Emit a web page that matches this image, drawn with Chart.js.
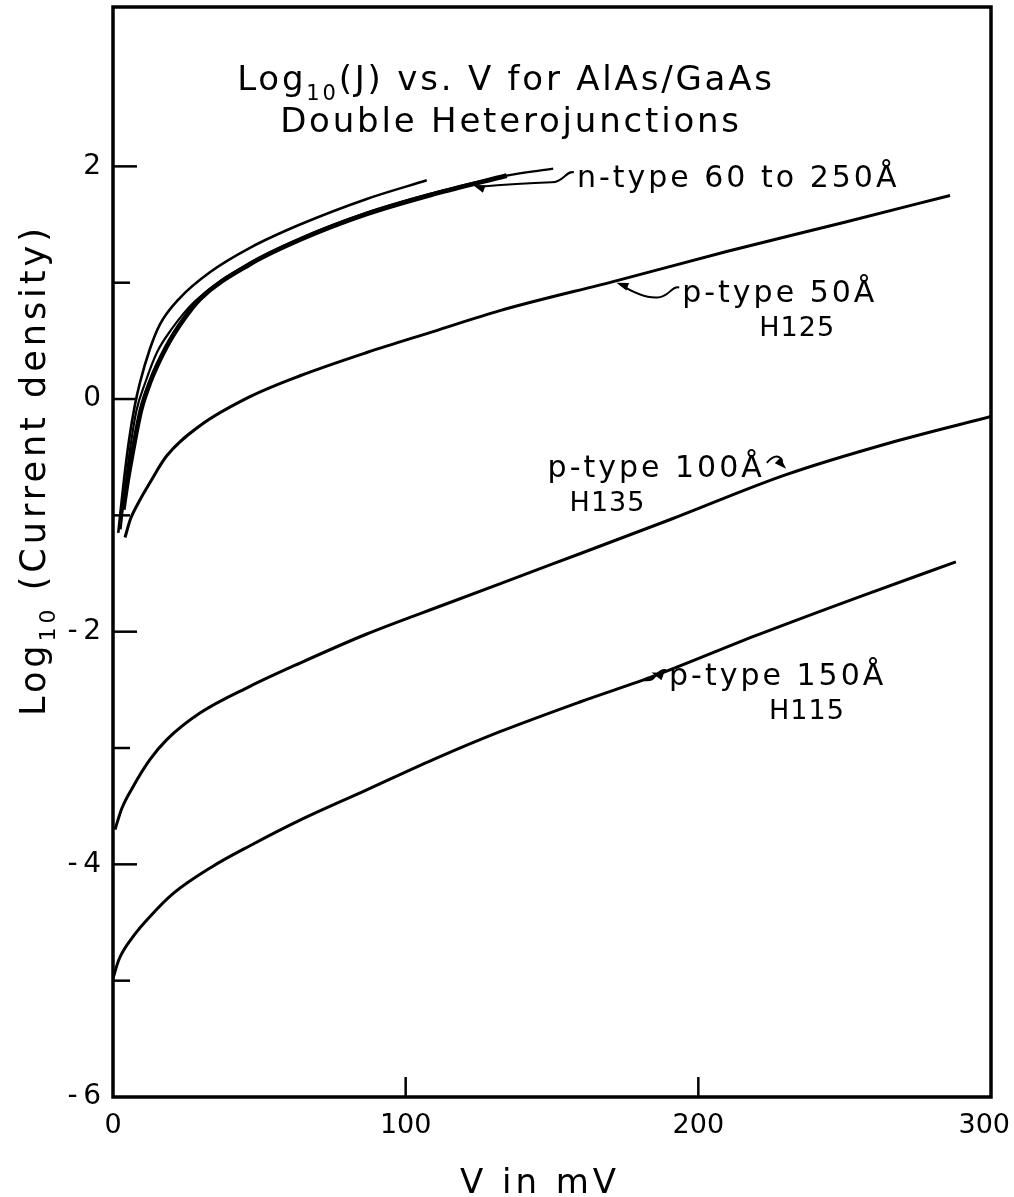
<!DOCTYPE html>
<html>
<head>
<meta charset="utf-8">
<script src="https://cdn.jsdelivr.net/npm/chart.js@4.4.0/dist/chart.umd.min.js"></script>
<style>
  html, body { margin: 0; padding: 0; background: #fff; }
  #wrap { width: 1014px; height: 1197px; }
</style>
</head>
<body>
<div id="wrap"><canvas id="chart" width="1014" height="1197"></canvas></div>
<script>
// log10(J) against bias V (mV)

// n-type 60 to 250 A wells (three traces)
const nUpperV = [1.8, 3.5, 5.5, 7.5, 9.2, 12.6, 16, 22.9, 33.1, 46.8, 63.9, 86.7, 107.2];
const nUpperJ = [-1.15, -0.75, -0.35, -0.05, 0.14, 0.43, 0.64, 0.87, 1.09, 1.30, 1.50, 1.72, 1.88];

const nThickV = [3.5, 5, 6.9, 9.5, 12.6, 18.3, 24, 29.7, 46.8, 63.9, 86.6, 109.4, 134.5];
const nThickJ = [-0.95, -0.70, -0.43, -0.10, 0.14, 0.45, 0.68, 0.86, 1.16, 1.37, 1.59, 1.76, 1.92];

const nThinV = [2.6, 4.2, 6, 8, 11, 15, 20, 28, 46.8, 63.9, 86.6, 109.4, 134.5, 150.4];
const nThinJ = [-1.12, -0.75, -0.40, -0.10, 0.14, 0.40, 0.60, 0.84, 1.17, 1.38, 1.60, 1.77, 1.92, 1.98];

// p-type 50 A (H125)
const p50V = [4.1, 6, 8.5, 12.6, 18.3, 29.7, 46.8, 63.9, 86.7, 109.4, 132.2, 172.5, 210, 250, 286];
const p50J = [-1.19, -1.03, -0.90, -0.72, -0.49, -0.23, 0.02, 0.20, 0.40, 0.58, 0.76, 1.02, 1.27, 1.52, 1.75];

// p-type 100 A (H135)
const p100V = [0.7, 3, 6.9, 12.6, 18.3, 29.7, 46.8, 63.9, 86.7, 114, 150, 190, 230, 265, 300];
const p100J = [-3.70, -3.52, -3.33, -3.10, -2.93, -2.70, -2.47, -2.27, -2.02, -1.76, -1.42, -1.04, -0.65, -0.38, -0.15];

// p-type 150 A (H115)
const p150V = [0, 2, 6.9, 12.6, 20.6, 33.9, 46.8, 63.9, 86.7, 109.4, 132.2, 160, 185, 220, 255, 288];
const p150J = [-4.98, -4.82, -4.62, -4.45, -4.25, -4.02, -3.84, -3.62, -3.36, -3.10, -2.86, -2.60, -2.38, -2.03, -1.70, -1.40];

const xTickValues = [0, 100, 200, 300];
const yLabelValues = [-6, -4, -2, 0, 2];
const yMarkValues = [-5, -4, -3, -2, -1, 0, 1, 2];
const xMarkValues = [100, 200];

// curve labels: text anchor and arrow tip in data units, second line offset in px
const curveNotes = [
  { lines: ['n-type 60 to 250Å'], at: [158.5, 1.82], tip: [123, 1.84], arrow: 'left' },
  { lines: ['p-type 50Å', 'H125'], at: [194.5, 0.83], tip: [172, 1.0], arrow: 'left', sub: 77 },
  { lines: ['p-type 100Å', 'H135'], at: [148.5, -0.67], tip: [230, -0.6], arrow: 'right', sub: 22 },
  { lines: ['p-type 150Å', 'H115'], at: [190, -2.46], tip: [184, -2.35], arrow: 'left', sub: 100 }
];

const FONT = "'DejaVu Sans', sans-serif";

function pts(xs, ys) {
  return xs.map((v, i) => ({ x: v, y: ys[i] }));
}

function curve(label, xs, ys, width) {
  return {
    label,
    data: pts(xs, ys),
    showLine: true,
    borderColor: '#000',
    borderWidth: width,
    pointRadius: 0,
    cubicInterpolationMode: 'monotone',
    fill: false
  };
}

// text with a subscript run, centred on cx
function drawRuns(ctx, runs, cx, baseline, size, spacing) {
  const subSize = Math.round(size * 0.62);
  ctx.letterSpacing = spacing + 'px';
  let total = 0;
  runs.forEach(r => {
    ctx.font = `${r.sub ? subSize : size}px ${FONT}`;
    r.w = ctx.measureText(r.t).width;
    total += r.w;
  });
  let x = cx - total / 2;
  ctx.textAlign = 'left';
  ctx.textBaseline = 'alphabetic';
  runs.forEach(r => {
    ctx.font = `${r.sub ? subSize : size}px ${FONT}`;
    ctx.fillText(r.t, x, baseline + (r.sub ? size * 0.28 : 0));
    x += r.w;
  });
  ctx.letterSpacing = '0px';
}

function arrowHead(ctx, tx, ty, fx, fy) {
  const ang = Math.atan2(ty - fy, tx - fx);
  const len = 12, half = 4;
  ctx.beginPath();
  ctx.moveTo(tx, ty);
  ctx.lineTo(tx - len * Math.cos(ang) + half * Math.sin(ang), ty - len * Math.sin(ang) - half * Math.cos(ang));
  ctx.lineTo(tx - len * Math.cos(ang) - half * Math.sin(ang), ty - len * Math.sin(ang) + half * Math.cos(ang));
  ctx.closePath();
  ctx.fill();
}

const decorations = {
  id: 'decorations',
  afterDatasetsDraw(chart) {
    const { ctx, chartArea: a, scales: { x, y } } = chart;
    ctx.save();
    ctx.fillStyle = '#000';
    ctx.strokeStyle = '#000';

    // frame
    ctx.lineWidth = 3.5;
    ctx.strokeRect(a.left, a.top, a.right - a.left, a.bottom - a.top);

    // inward ticks
    ctx.lineWidth = 2.5;
    yMarkValues.forEach(v => {
      const py = y.getPixelForValue(v);
      const len = v % 2 === 0 ? 24 : 17;
      ctx.beginPath();
      ctx.moveTo(a.left, py);
      ctx.lineTo(a.left + len, py);
      ctx.stroke();
    });
    xMarkValues.forEach(v => {
      const px = x.getPixelForValue(v);
      ctx.beginPath();
      ctx.moveTo(px, a.bottom);
      ctx.lineTo(px, a.bottom - 20);
      ctx.stroke();
    });

    // title
    drawRuns(ctx, [{ t: 'Log' }, { t: '10', sub: true }, { t: '(J) vs. V for AlAs/GaAs' }], 506, 90, 34, 2.8);
    drawRuns(ctx, [{ t: 'Double Heterojunctions' }], 511, 132, 34, 2.8);

    // axis titles
    drawRuns(ctx, [{ t: 'V in mV' }], 540, 1193, 34, 4);
    ctx.save();
    ctx.translate(45, 470);
    ctx.rotate(-Math.PI / 2);
    drawRuns(ctx, [{ t: 'Log' }, { t: '10', sub: true }, { t: ' (Current density)' }], 0, 0, 35, 4);
    ctx.restore();

    // curve labels with their arrows
    ctx.lineWidth = 2;
    curveNotes.forEach(n => {
      const lx = x.getPixelForValue(n.at[0]);
      const ly = y.getPixelForValue(n.at[1]);
      const tx = x.getPixelForValue(n.tip[0]);
      const ty = y.getPixelForValue(n.tip[1]);
      ctx.letterSpacing = '3px';
      ctx.font = `30px ${FONT}`;
      ctx.textAlign = 'left';
      ctx.textBaseline = 'alphabetic';
      ctx.fillText(n.lines[0], lx, ly);
      const w = ctx.measureText(n.lines[0]).width;
      if (n.lines[1]) {
        ctx.letterSpacing = '1px';
        ctx.font = `27px ${FONT}`;
        ctx.fillText(n.lines[1], lx + n.sub, ly + 34);
      }
      ctx.letterSpacing = '0px';

      ctx.beginPath();
      if (n.arrow === 'left') {
        // small hook at the text, then a sweep back to the curve
        const sx = lx - 3, sy = ly - 15;
        ctx.moveTo(sx, sy);
        ctx.bezierCurveTo(sx - 8, sy - 2, sx - 10, sy + 10, sx - 22, sy + 10);
        ctx.quadraticCurveTo((sx - 22 + tx) / 2 + 6, sy + 11, tx + 4, ty + 2);
        ctx.stroke();
        arrowHead(ctx, tx, ty, tx + 14, ty + 5);
      } else {
        // wave from the end of the text down to the curve
        const sx = lx + w + 2, sy = ly - 14;
        ctx.moveTo(sx, sy);
        ctx.bezierCurveTo(sx + 10, sy - 12, sx + 18, sy - 4, tx - 5, ty - 5);
        ctx.stroke();
        arrowHead(ctx, tx, ty, tx - 9, ty - 9);
      }
    });
    ctx.restore();
  }
};

new Chart(document.getElementById('chart'), {
  type: 'scatter',
  data: {
    datasets: [
      curve('n-type upper', nUpperV, nUpperJ, 2.6),
      curve('n-type thin', nThinV, nThinJ, 2.2),
      curve('n-type thick', nThickV, nThickJ, 4.8),
      curve('p-type 50', p50V, p50J, 3),
      curve('p-type 100', p100V, p100J, 3),
      curve('p-type 150', p150V, p150J, 3)
    ]
  },
  options: {
    responsive: false,
    animation: false,
    layout: { padding: { top: 7, right: 23, left: 0, bottom: 0 } },
    plugins: {
      legend: { display: false },
      tooltip: { enabled: false },
      title: { display: false }
    },
    scales: {
      x: {
        type: 'linear',
        min: 0,
        max: 300,
        afterFit: s => { s.height = 100; s.paddingLeft = 0; s.paddingRight = 0; },
        afterBuildTicks: s => { s.ticks = xTickValues.map(v => ({ value: v })); },
        grid: { display: false },
        border: { display: false },
        ticks: {
          color: '#000',
          font: { family: FONT, size: 27 },
          padding: 5,
          maxRotation: 0,
          autoSkip: false,
          // the last label is nudged inward so it stays on the canvas
          callback: v => (v === 300 ? '300\u2002' : String(v))
        }
      },
      y: {
        type: 'linear',
        min: -6,
        max: 3.37,
        afterFit: s => { s.width = 113; s.paddingTop = 0; s.paddingBottom = 0; },
        afterBuildTicks: s => { s.ticks = yLabelValues.map(v => ({ value: v })); },
        grid: { display: false },
        border: { display: false },
        ticks: {
          color: '#000',
          font: { family: FONT, size: 28 },
          padding: 4,
          autoSkip: false,
          callback: v => (v < 0 ? '-\u2009' + Math.abs(v) : String(v))
        }
      }
    }
  },
  plugins: [decorations]
});
</script>
</body>
</html>
